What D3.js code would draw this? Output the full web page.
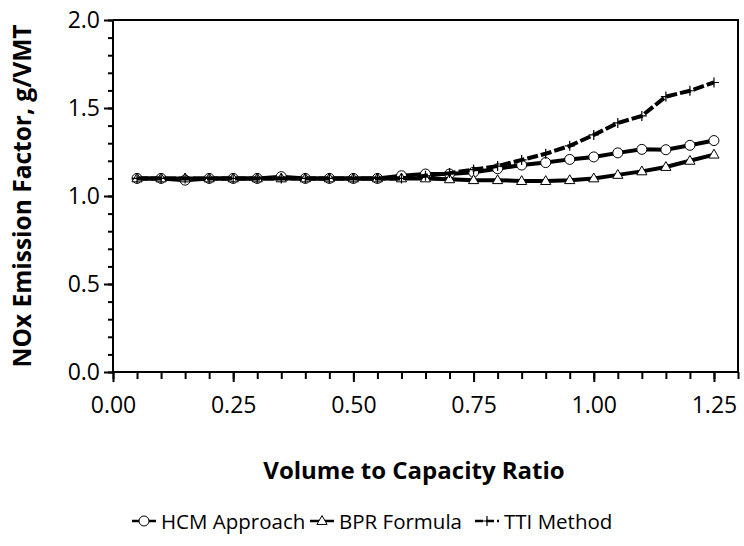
<!DOCTYPE html>
<meta charset="utf-8">
<style>
    body { margin: 0; background: #fff; }
    text { font-family: "Open Sans", sans-serif; fill: #000; }
    .tick-label { font-size: 23px; }
    .axis-title { font-size: 24px; font-weight: bold; }
    .y-title { font-size: 24.5px; }
    .legend text { font-size: 20.5px; }
    .series-line { fill: none; stroke: #000; stroke-width: 4px; }
    .marker { fill: #fff; stroke: #000; stroke-width: 1px; }
</style>
<body>
<svg width="744" height="546"></svg>
</body>
<script src="https://d3js.org/d3.v7.min.js"></script>
<script>
    var ratio = [0.05, 0.10, 0.15, 0.20, 0.25, 0.30, 0.35, 0.40, 0.45, 0.50, 0.55, 0.60, 0.65,
                 0.70, 0.75, 0.80, 0.85, 0.90, 0.95, 1.00, 1.05, 1.10, 1.15, 1.20, 1.25];
    var hcm = [1.10, 1.10, 1.09, 1.10, 1.10, 1.10, 1.11, 1.10, 1.10, 1.10, 1.10, 1.115, 1.125,
               1.125, 1.135, 1.155, 1.176, 1.19, 1.208, 1.222, 1.245, 1.265, 1.263, 1.288, 1.315];
    var bpr = [1.10, 1.10, 1.10, 1.10, 1.10, 1.10, 1.10, 1.10, 1.10, 1.10, 1.10, 1.10, 1.10,
               1.095, 1.09, 1.09, 1.085, 1.085, 1.09, 1.10, 1.12, 1.14, 1.165, 1.20, 1.235];
    var tti = [1.10, 1.10, 1.10, 1.10, 1.10, 1.10, 1.10, 1.10, 1.10, 1.10, 1.10, 1.10, 1.115,
               1.13, 1.15, 1.17, 1.205, 1.24, 1.285, 1.347, 1.415, 1.455, 1.565, 1.598, 1.645];
    var seriesNames = ["HCM Approach", "BPR Formula", "TTI Method"];
    var xTicks = [0, 0.25, 0.5, 0.75, 1.0, 1.25];
    var yTicks = [0, 0.5, 1.0, 1.5, 2.0];

    var svg = d3.select("svg"),
        margin = { top: 20, right: 6, bottom: 174, left: 113 },
        width = +svg.attr("width") - margin.left - margin.right,
        height = +svg.attr("height") - margin.top - margin.bottom;

    var x = d3.scaleLinear().domain([0, 1.3]).range([0, width]);
    var y = d3.scaleLinear().domain([0, 2]).range([height, 0]);

    var g = svg.append("g")
        .attr("transform", "translate(" + margin.left + "," + margin.top + ")");

    // plot area border (top and right)
    g.append("path")
        .attr("d", "M0,0H" + width + "V" + height)
        .attr("fill", "none")
        .attr("stroke", "#000")
        .attr("stroke-width", 2);

    // minor ticks
    var xMinor = d3.range(0, 27).map(function(i) { return i * 0.05; });
    var yMinor = d3.range(0, 21).map(function(i) { return i * 0.1; });

    g.append("g")
        .attr("transform", "translate(0," + height + ")")
        .call(d3.axisBottom(x).tickValues(xMinor).tickSize(7).tickFormat(""))
        .call(function(s) { s.select(".domain").remove(); })
        .selectAll("line").attr("stroke-width", 2);

    g.append("g")
        .call(d3.axisLeft(y).tickValues(yMinor).tickSize(5).tickFormat(""))
        .call(function(s) { s.select(".domain").remove(); })
        .selectAll("line").attr("stroke-width", 2);

    // major ticks + labels
    var xAxis = g.append("g")
        .attr("transform", "translate(0," + height + ")")
        .call(d3.axisBottom(x).tickValues(xTicks).tickSize(10).tickPadding(15).tickFormat(d3.format(".2f")));
    xAxis.select(".domain").attr("d", "M0,0H" + width).attr("stroke-width", 2);
    xAxis.selectAll("line").attr("stroke-width", 2);
    xAxis.selectAll("text").attr("class", "tick-label");
    xAxis.attr("font-size", null).attr("font-family", null);

    var yAxis = g.append("g")
        .call(d3.axisLeft(y).tickValues(yTicks).tickSize(9).tickPadding(4).tickFormat(d3.format(".1f")));
    yAxis.select(".domain").attr("d", "M0," + height + "V0").attr("stroke-width", 2);
    yAxis.selectAll("line").attr("stroke-width", 2);
    yAxis.selectAll("text").attr("class", "tick-label");
    yAxis.attr("font-size", null).attr("font-family", null);

    // axis titles
    svg.append("text")
        .attr("class", "axis-title")
        .attr("x", 414)
        .attr("y", 479)
        .attr("text-anchor", "middle")
        .text("Volume to Capacity Ratio");

    svg.append("text")
        .attr("class", "axis-title y-title")
        .attr("transform", "translate(31," + (margin.top + height / 2) + ") rotate(-90)")
        .attr("text-anchor", "middle")
        .text("NOx Emission Factor, g/VMT");

    var line = d3.line()
        .x(function(d) { return x(d[0]); })
        .y(function(d) { return y(d[1]); });

    function pairs(vals) {
        return ratio.map(function(r, i) { return [r, vals[i]]; });
    }

    var tri = d3.symbol().type(d3.symbolTriangle).size(45);

    function drawMarker(sel, kind) {
        if (kind === 0) {
            sel.append("circle").attr("class", "marker").attr("r", 5);
        } else if (kind === 1) {
            sel.append("path").attr("class", "marker").attr("d", tri).attr("transform", "translate(0,0.5)");
        } else {
            sel.append("path").attr("fill", "none").attr("stroke", "#000").attr("stroke-width", 1.2)
                .attr("d", "M-5,0H5M0,-5V5");
        }
    }

    var allSeries = [hcm, bpr, tti];

    allSeries.forEach(function(vals, k) {
        var data = pairs(vals);
        var path = g.append("path")
            .datum(data)
            .attr("class", "series-line")
            .attr("d", line);
        if (k === 2) path.attr("stroke-dasharray", "11,3");

        g.selectAll(".pt" + k)
            .data(data)
            .enter().append("g")
            .attr("class", "pt" + k)
            .attr("transform", function(d) { return "translate(" + x(d[0]) + "," + y(d[1]) + ")"; })
            .each(function() { drawMarker(d3.select(this), k); });
    });

    // legend
    var legendX = [132, 310, 475];
    var legend = svg.append("g").attr("class", "legend");
    seriesNames.forEach(function(name, k) {
        var item = legend.append("g").attr("transform", "translate(" + legendX[k] + ",521)");
        var l = item.append("line")
            .attr("x1", 0).attr("x2", 24)
            .attr("stroke", "#000").attr("stroke-width", 2.5);
        if (k === 2) l.attr("stroke-dasharray", "8,3");
        var m = item.append("g").attr("transform", "translate(12,0)");
        drawMarker(m, k);
        item.append("text")
            .attr("x", 29)
            .attr("y", 8)
            .text(name);
    });
</script>
